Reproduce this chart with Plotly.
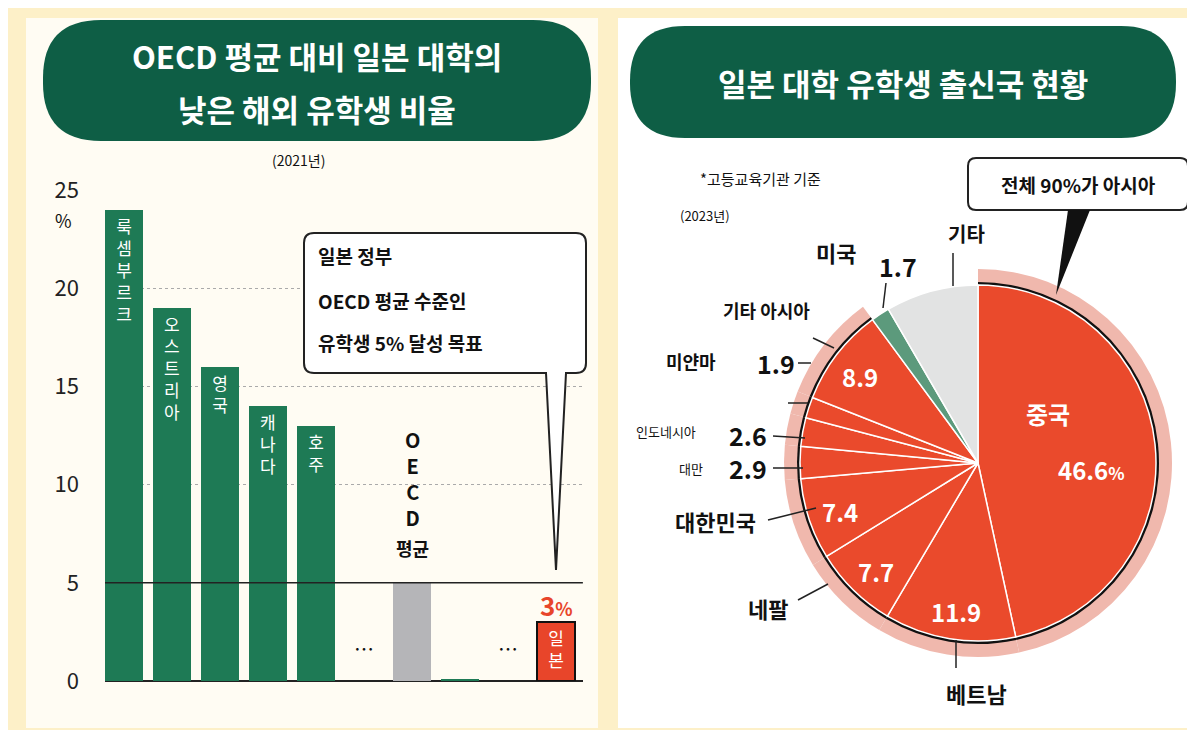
import plotly.graph_objects as go

W, H = 1195, 730
FONT = "Noto Sans CJK KR"

# Left chart data (2021)
bar_labels = ['룩<br>셈<br>부<br>르<br>크', '오<br>스<br>트<br>리<br>아', '영<br>국', '캐<br>나<br>다', '호<br>주',
              '', '', '', '', '일<br>본']
bar_values = [24, 19, 16, 14, 13, None, 5, 0.1, None, 3]
bar_colors = ['#1e7a55'] * 5 + ['#1e7a55', '#b5b5b8', '#1e7a55', '#1e7a55', '#e8452a']
y_ticks = [0, 5, 10, 15, 20, 25]

# Right chart data (2023)
pie_labels = ['중국', '베트남', '네팔', '대한민국', '대만', '인도네시아', '미얀마', '기타 아시아', '미국', '기타']
pie_values = [46.6, 11.9, 7.7, 7.4, 2.9, 2.6, 1.9, 8.9, 1.7, 8.4]
pie_colors = ['#ea4a2c'] * 8 + ['#5c9a7c', '#e2e3e3']
is_asia = [True] * 8 + [False, False]


def px(x):
    return x / W


def py(y):
    return 1 - y / H


def rrect(x0, y0, x1, y1, r, pointer=None):
    # rounded rect in pixel coords -> paper path; pointer = (xa, xb, tipx, tipy) on bottom edge
    p = f"M {px(x0 + r)},{py(y0)} L {px(x1 - r)},{py(y0)} Q {px(x1)},{py(y0)} {px(x1)},{py(y0 + r)} "
    p += f"L {px(x1)},{py(y1 - r)} Q {px(x1)},{py(y1)} {px(x1 - r)},{py(y1)} "
    if pointer:
        xa, xb, tx, ty = pointer
        p += f"L {px(xb)},{py(y1)} L {px(tx)},{py(ty)} L {px(xa)},{py(y1)} "
    p += f"L {px(x0 + r)},{py(y1)} Q {px(x0)},{py(y1)} {px(x0)},{py(y1 - r)} "
    p += f"L {px(x0)},{py(y0 + r)} Q {px(x0)},{py(y0)} {px(x0 + r)},{py(y0)} Z"
    return p


fig = go.Figure()

fig.add_trace(go.Bar(
    x=list(range(10)), y=bar_values, width=0.79, marker_color=bar_colors,
    marker_line=dict(color=['rgba(0,0,0,0)'] * 9 + ['#111'], width=2),
    text=bar_labels, textposition='inside', insidetextanchor='end', textangle=0,
    textfont=dict(color='white', size=17, family=FONT), cliponaxis=False, showlegend=False
))

# pie rings: pink band, black outline, main pie
cx, cy = 970, 455
for r, cols, line in [(194, ['#f0b8ad' if a else 'rgba(0,0,0,0)' for a in is_asia], 0),
                      (181, ['#111' if a else 'rgba(0,0,0,0)' for a in is_asia], 0),
                      (178, pie_colors, 1.5)]:
    fig.add_trace(go.Pie(
        labels=pie_labels, values=pie_values, sort=False, direction='clockwise',
        marker=dict(colors=cols, line=dict(color='white', width=line)),
        textinfo='none', hoverinfo='label+value', showlegend=False, automargin=False,
        domain=dict(x=[px(cx - r), px(cx + r)], y=[py(cy + r), py(cy - r)])
    ))

shapes = [
    dict(type='rect', xref='paper', yref='paper', x0=px(18), x1=px(590), y0=py(720), y1=py(10),
         fillcolor='#fffcf3', line_width=0, layer='below'),
    dict(type='rect', xref='paper', yref='paper', x0=px(610), x1=px(1185), y0=py(720), y1=py(10),
         fillcolor='#ffffff', line_width=0, layer='below'),
    dict(type='path', xref='paper', yref='paper', path=rrect(35, 12, 583, 133, 58),
         fillcolor='#0e5e45', line_width=0),
    dict(type='path', xref='paper', yref='paper', path=rrect(622, 18, 1168, 130, 55),
         fillcolor='#0e5e45', line_width=0),
    dict(type='path', xref='paper', yref='paper', path=rrect(296, 225, 578, 365, 10, (538, 558, 548, 562)),
         fillcolor='white', line=dict(color='#222', width=2)),
    dict(type='path', xref='paper', yref='paper', path=rrect(960, 150, 1180, 202, 8),
         fillcolor='white', line=dict(color='#222', width=2)),
    dict(type='path', xref='paper', yref='paper',
         path=f"M {px(1060)},{py(202)} L {px(1048)},{py(287)} L {px(1082)},{py(202)} Z",
         fillcolor='#111', line_width=0),
    dict(type='line', xref='x', yref='y', x0=-0.4, x1=9.56, y0=5, y1=5, line=dict(color='#222', width=1.5)),
]
# leader lines for pie labels
for (x0, y0, x1, y1) in [(948, 632, 948, 660), (820, 576, 790, 592), (808, 500, 760, 512),
                         (795, 460, 765, 460), (797, 430, 765, 428), (800, 395, 780, 395),
                         (826, 340, 805, 330), (803, 355, 790, 355), (875, 300, 878, 275),
                         (945, 278, 945, 245)]:
    shapes.append(dict(type='line', xref='paper', yref='paper', x0=px(x0), y0=py(y0), x1=px(x1), y1=py(y1),
                       line=dict(color='#222', width=1.5)))


def ann(x, y, t, size, color='#111', bold=False, anchor='center'):
    return dict(x=px(x), y=py(y), xref='paper', yref='paper', text=f"<b>{t}</b>" if bold else t,
                showarrow=False, xanchor=anchor, yanchor='middle',
                font=dict(size=size, color=color, family=FONT))


annotations = [
    ann(309, 48, 'OECD 평균 대비 일본 대학의', 31, 'white', True),
    ann(309, 100, '낮은 해외 유학생 비율', 31, 'white', True),
    ann(895, 74, '일본 대학 유학생 출신국 현황', 31, 'white', True),
    ann(290, 152, '(2021년)', 14),
    ann(55, 212, '%', 18),
    ann(308, 248, '일본 정부', 19, bold=True, anchor='left'),
    ann(308, 292, 'OECD 평균 수준인', 19, bold=True, anchor='left'),
    ann(308, 334, '유학생 5% 달성 목표', 19, bold=True, anchor='left'),
    ann(404, 470, 'O<br>E<br>C<br>D', 20, bold=True),
    ann(404, 540, '평균', 18, bold=True),
    ann(356, 640, '…', 20), ann(500, 640, '…', 20),
    ann(548, 596, '3<span style="font-size:18px">%</span>', 26, '#e8452a', True),
    ann(1070, 176, '전체 90%가 아시아', 19, bold=True),
    ann(752, 170, '*고등교육기관 기준', 15),
    ann(697, 208, '(2023년)', 13),
    ann(1040, 405, '중국', 24, 'white', True),
    ann(1083, 462, '46.6<span style="font-size:17px">%</span>', 24, 'white', True),
    ann(948, 603, '11.9', 24, 'white', True),
    ann(868, 563, '7.7', 24, 'white', True),
    ann(832, 503, '7.4', 24, 'white', True),
    ann(852, 368, '8.9', 24, 'white', True),
    ann(968, 685, '베트남', 22, bold=True),
    ann(760, 600, '네팔', 22, bold=True),
    ann(707, 513, '대한민국', 22, bold=True),
    ann(683, 460, '대만', 13),
    ann(740, 460, '2.9', 25, bold=True),
    ann(658, 424, '인도네시아', 13),
    ann(740, 427, '2.6', 25, bold=True),
    ann(683, 353, '미얀마', 18, bold=True),
    ann(768, 355, '1.9', 25, bold=True),
    ann(758, 302, '기타 아시아', 18, bold=True),
    ann(828, 244, '미국', 22, bold=True),
    ann(890, 258, '1.7', 25, bold=True),
    ann(958, 226, '기타', 20, bold=True),
]

fig.update_layout(
    width=W, height=H, margin=dict(l=0, r=0, t=0, b=0, pad=0, autoexpand=False),
    paper_bgcolor='#fdf0c8', plot_bgcolor='rgba(0,0,0,0)',
    font=dict(family=FONT),
    bargap=0, shapes=shapes, annotations=annotations,
    xaxis=dict(domain=[px(97), px(575)], range=[-0.396, 9.5625], showticklabels=False, showgrid=False,
               zeroline=False, automargin=False),
    yaxis=dict(domain=[py(673), py(182)], range=[0, 25], tickvals=y_ticks,
               ticktext=['0', '5', '10', '15', '20', '25'], automargin=False,
               tickfont=dict(size=22, color='#222', family=FONT), ticklabelstandoff=25,
               showgrid=True, gridcolor='#aaaaaa', griddash='dot', zeroline=True,
               zerolinecolor='#222', zerolinewidth=1.5),
)

fig.write_html("out.html")
